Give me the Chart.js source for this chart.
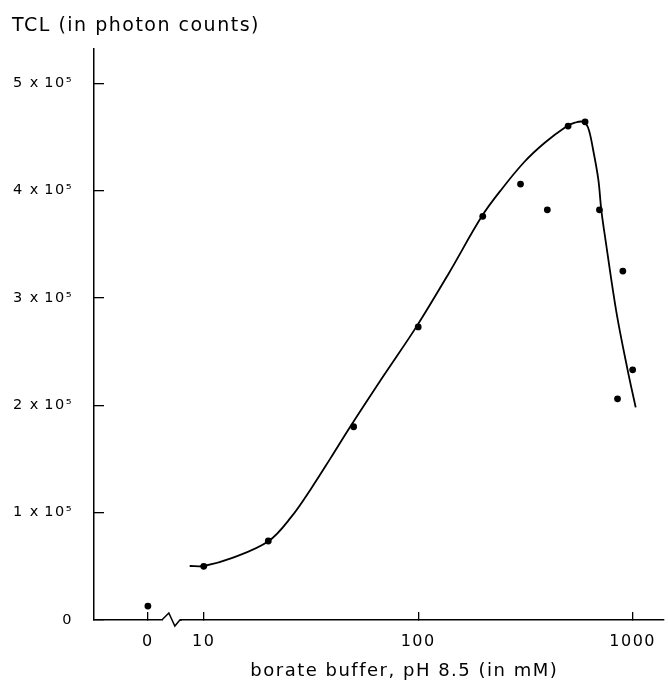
<!DOCTYPE html>
<html>
<head>
<meta charset="utf-8">
<script src="https://cdn.jsdelivr.net/npm/chart.js@4.4.1/dist/chart.umd.min.js"></script>
<style>
  html, body { margin: 0; padding: 0; background: #fff; }
  #wrap { width: 668px; height: 681px; position: relative; }
</style>
</head>
<body>
<div id="wrap"><canvas id="c"></canvas></div>
<script>
// Measured points (borate buffer concentration in mM, TCL in photon counts)
const DOT_CONC = [0, 10, 20, 50, 100, 200, 300, 400, 500, 600, 700, 850, 900, 1000];
const DOT_TCL  = [13000, 50000, 73600, 180000, 273000, 376000, 406000, 382000, 460000, 464000, 382000, 206000, 325000, 233000];

// Hand-drawn fitted curve
const CURVE_CONC = [8.6, 10, 13.6, 20.1, 25.6, 31.6, 39.1, 48.2, 68.7, 98, 139, 198, 246, 313, 389, 489, 538, 587, 620, 654, 692, 714, 747, 841, 947, 1033];
const CURVE_TCL  = [50300, 50300, 57800, 73600, 96000, 122100, 151000, 180000, 227000, 273000, 323000, 376000, 401700, 426800, 444500, 459500, 463200, 464000, 458500, 438000, 410000, 382000, 354000, 286000, 233000, 198000];

// Axis ticks
const X_TICKS = [0, 10, 100, 1000];
const X_TICK_LABELS = ['0', '10', '100', '1000'];
const Y_TICKS = [0, 100000, 200000, 300000, 400000, 500000];
const Y_TICK_LABELS = ['0', '1 x\u200910\u2075', '2 x\u200910\u2075', '3 x\u200910\u2075', '4 x\u200910\u2075', '5 x\u200910\u2075'];

// The log axis is broken: concentration 0 is shown left of the break
const ZERO_POS = 5.49;
const BREAK_POS = 7.1;
const X_MIN = 3.078, X_MAX = 1400;
const Y_MIN = 0, Y_MAX = 532000;

const FONT = "'DejaVu Sans', 'Noto Sans', sans-serif";
const mapX = c => (c === 0 ? ZERO_POS : c);

const spacingPlugin = {
  id: 'spacing',
  beforeUpdate(chart) { chart.ctx.letterSpacing = '1.5px'; },
  beforeLayout(chart) { chart.ctx.letterSpacing = '1.5px'; },
  beforeDraw(chart) { chart.ctx.letterSpacing = '1.5px'; }
};

const breakPlugin = {
  id: 'axisBreak',
  afterDraw(chart) {
    const ctx = chart.ctx;
    const xs = chart.scales.x;
    const y = chart.chartArea.bottom;
    const c = xs.getPixelForValue(BREAK_POS);
    ctx.save();
    ctx.fillStyle = '#fff';
    ctx.fillRect(c - 9, y - 3, 17, 6);
    ctx.strokeStyle = '#000';
    ctx.lineWidth = 1.5;
    ctx.beginPath();
    ctx.moveTo(c - 10, y);
    ctx.lineTo(c - 3, y - 7);
    ctx.lineTo(c + 3, y + 6);
    ctx.lineTo(c + 8, y);
    ctx.lineTo(c + 10, y);
    ctx.stroke();
    ctx.restore();
  }
};

new Chart(document.getElementById('c'), {
  type: 'scatter',
  data: {
    datasets: [
      {
        type: 'line',
        data: CURVE_CONC.map((c, i) => ({ x: c, y: CURVE_TCL[i] })),
        borderColor: '#000',
        borderWidth: 1.8,
        pointRadius: 0,
        fill: false,
        tension: 0.35
      },
      {
        type: 'scatter',
        data: DOT_CONC.map((c, i) => ({ x: mapX(c), y: DOT_TCL[i] })),
        backgroundColor: '#000',
        borderColor: '#000',
        borderWidth: 0,
        pointRadius: 3.4
      }
    ]
  },
  options: {
    responsive: true,
    maintainAspectRatio: false,
    animation: false,
    layout: { padding: { left: 12, right: 0, top: 0, bottom: 0 } },
    plugins: {
      legend: { display: false },
      tooltip: { enabled: false },
      title: {
        display: true,
        text: 'TCL (in photon counts)',
        align: 'start',
        color: '#000',
        font: { family: FONT, size: 19, weight: 'normal', lineHeight: 1.2 },
        padding: { top: 15, bottom: 11 }
      }
    },
    scales: {
      x: {
        type: 'logarithmic',
        min: X_MIN,
        max: X_MAX,
        afterBuildTicks: s => { s.ticks = X_TICKS.map(v => ({ value: mapX(v) })); },
        afterFit: s => { s.height = 61; s.paddingLeft = 0; s.paddingRight = 0; },
        ticks: {
          color: '#000',
          font: { family: FONT, size: 16 },
          padding: 20,
          maxRotation: 0,
          autoSkip: false,
          callback: (v, i) => X_TICK_LABELS[i]
        },
        grid: { drawOnChartArea: false, drawTicks: true, tickLength: -8, color: '#000', lineWidth: 1.3 },
        border: { display: true, color: '#000', width: 1.5 },
        title: {
          display: true,
          text: '       borate buffer, pH 8.5 (in mM)',
          color: '#000',
          font: { family: FONT, size: 18, lineHeight: 1.0 },
          padding: { top: 0, bottom: 1 }
        }
      },
      y: {
        type: 'linear',
        min: Y_MIN,
        max: Y_MAX,
        afterBuildTicks: s => { s.ticks = Y_TICKS.map(v => ({ value: v })); },
        afterFit: s => { s.width = 82; s.paddingTop = 0; s.paddingBottom = 0; },
        ticks: {
          color: '#000',
          font: { family: FONT, size: 14.5 },
          padding: 31,
          callback: (v, i) => Y_TICK_LABELS[i]
        },
        grid: { drawOnChartArea: false, drawTicks: true, tickLength: -10, color: '#000', lineWidth: 1.3 },
        border: { display: true, color: '#000', width: 1.5 }
      }
    }
  },
  plugins: [spacingPlugin, breakPlugin]
});
</script>
</body>
</html>
